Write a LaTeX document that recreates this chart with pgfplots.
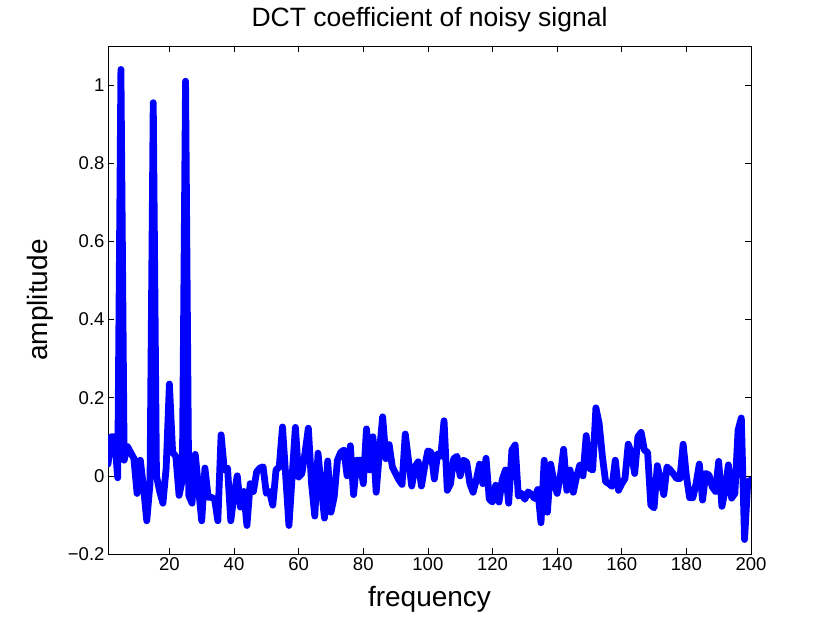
\documentclass[border=0pt]{standalone}
\usepackage{fontspec}
\setmainfont{Liberation Sans}
\usepackage{pgfplots}
\pgfplotsset{compat=1.18}
\begin{document}
\begin{tikzpicture}
\useasboundingbox (0pt,0pt) rectangle (830pt,623pt);
\begin{axis}[
  at={(108pt,69pt)}, anchor=south west,
  width=643pt, height=508pt, scale only axis,
  xmin=1, xmax=200, ymin=-0.2, ymax=1.1,
  xtick={20,40,...,200},
  ytick={-0.2,0,0.2,0.4,0.6,0.8,1},
  yticklabels={−0.2,0,0.2,0.4,0.6,0.8,1},
  tick align=inside, major tick length=6pt,
  tick style={black, line width=0.6pt},
  axis line style={line width=0.7pt},
  ticklabel style={font=\fontsize{18.5}{18.5}\selectfont},
  /pgf/number format/assume math mode=true,
  title={DCT coefficient of noisy signal},
  title style={font=\fontsize{26.5}{26.5}\selectfont, at={(axis description cs:0.5,1.04)}, anchor=center},
  xlabel={frequency}, ylabel={amplitude},
  xlabel style={font=\fontsize{28}{28}\selectfont, at={(axis description cs:0.5,-0.09)}, anchor=center},
  ylabel style={font=\fontsize{28}{28}\selectfont, at={(axis description cs:-0.106,0.5)}, anchor=center},
]
\addplot[blue, line width=6.8pt, line join=round, line cap=round] coordinates {
(1,0.03) (2,0.10) (3,0.10) (4,-0.005) (5,1.04) (6,0.04) (7,0.075) (8,0.06) (9,0.045) (10,-0.045)
(11,0.04) (12,-0.03) (13,-0.115) (14,-0.02) (15,0.955) (16,0.0) (17,-0.04) (18,-0.07) (19,0.02) (20,0.235)
(21,0.06) (22,0.05) (23,-0.05) (24,-0.01) (25,1.01) (26,-0.05) (27,-0.07) (28,0.055) (29,-0.03) (30,-0.115)
(31,0.02) (32,-0.055) (33,-0.055) (34,-0.06) (35,-0.115) (36,0.105) (37,0.015) (38,0.02) (39,-0.115) (40,-0.05)
(41,0.0) (42,-0.08) (43,-0.04) (44,-0.127) (45,-0.02) (46,-0.04) (47,0.01) (48,0.02) (49,0.023) (50,-0.045)
(51,-0.04) (52,-0.075) (53,0.015) (54,0.023) (55,0.125) (56,0.0) (57,-0.127) (58,0.0) (59,0.124) (60,-0.003)
(61,0.006) (62,0.06) (63,0.122) (64,-0.02) (65,-0.103) (66,0.058) (67,-0.03) (68,-0.108) (69,0.038) (70,-0.093)
(71,-0.054) (72,0.04) (73,0.06) (74,0.066) (75,0.0) (76,0.077) (77,-0.048) (78,0.04) (79,0.04) (80,-0.02)
(81,0.12) (82,0.015) (83,0.10) (84,-0.042) (85,0.06) (86,0.151) (87,0.044) (88,0.08) (89,0.023) (90,0.006)
(91,-0.01) (92,-0.022) (93,0.107) (94,0.04) (95,-0.026) (96,0.023) (97,0.036) (98,-0.026) (99,0.023) (100,0.064)
(101,0.06) (102,-0.008) (103,0.056) (104,0.05) (105,0.141) (106,-0.037) (107,-0.02) (108,0.044) (109,0.05) (110,0.0)
(111,0.04) (112,0.035) (113,-0.02) (114,-0.042) (115,-0.01) (116,0.03) (117,-0.02) (118,0.045) (119,-0.06) (120,-0.067)
(121,-0.024) (122,-0.067) (123,-0.01) (124,0.015) (125,-0.07) (126,0.066) (127,0.079) (128,-0.052) (129,-0.045) (130,-0.06)
(131,-0.041) (132,-0.047) (133,-0.058) (134,-0.035) (135,-0.12) (136,0.04) (137,-0.093) (138,0.03) (139,-0.015) (140,-0.045)
(141,0.0) (142,0.068) (143,-0.037) (144,0.015) (145,-0.042) (146,-0.003) (147,0.027) (148,0.0) (149,0.103) (150,0.019)
(151,0.015) (152,0.174) (153,0.134) (154,0.05) (155,-0.015) (156,-0.02) (157,-0.027) (158,0.04) (159,-0.037) (160,-0.02)
(161,-0.007) (162,0.081) (163,0.057) (164,0.006) (165,0.1) (166,0.111) (167,0.066) (168,0.06) (169,-0.075) (170,-0.082)
(171,0.026) (172,-0.01) (173,-0.048) (174,0.023) (175,0.015) (176,0.005) (177,-0.007) (178,-0.007) (179,0.081) (180,0.0)
(181,-0.056) (182,-0.056) (183,-0.02) (184,0.03) (185,-0.062) (186,0.006) (187,0.002) (188,-0.028) (189,-0.04) (190,0.037)
(191,-0.078) (192,-0.037) (193,0.028) (194,-0.057) (195,-0.045) (196,0.117) (197,0.148) (198,-0.163) (199,-0.015) (200,-0.011)
};
\end{axis}
\end{tikzpicture}
\end{document}
